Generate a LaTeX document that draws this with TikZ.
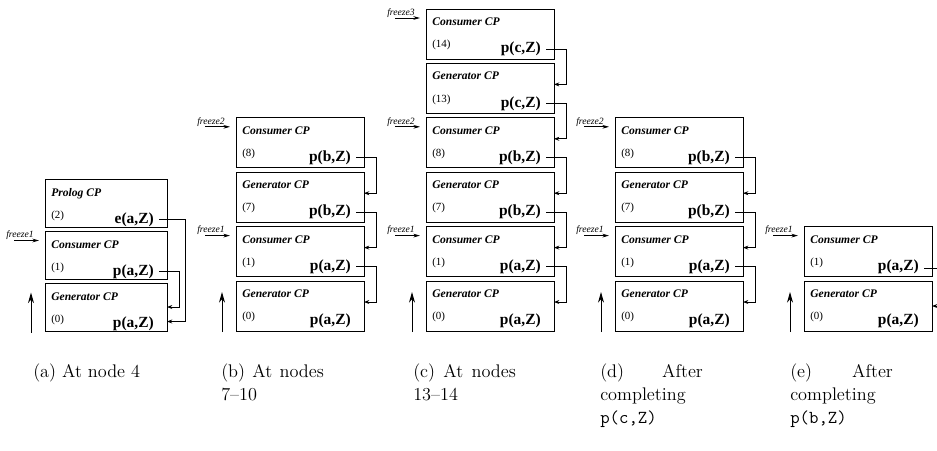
\documentclass[tikz,border=0pt]{standalone}
\usepackage{fontspec}
\newfontfamily\tms{Liberation Serif}
\usetikzlibrary{calc,arrows.meta}
\tikzset{
  cpbox/.style={draw, line width=0.7pt, anchor=north west, inner sep=0pt, outer sep=0pt,
                minimum width=96pt, minimum height=37.5pt},
  abox/.style={cpbox, minimum width=91.5pt, minimum height=36pt},
  ttl/.style={anchor=base west, inner sep=0pt, font=\tms\bfseries\itshape\fontsize{8.7}{10}\selectfont},
  num/.style={anchor=base west, inner sep=0pt, font=\tms\fontsize{8.2}{10}\selectfont},
  goal/.style={anchor=base east, inner sep=0pt, font=\tms\bfseries\fontsize{11.6}{13}\selectfont},
  frz/.style={anchor=base west, inner sep=0pt, font=\tms\itshape\fontsize{7.2}{8}\selectfont},
  link/.style={line width=0.6pt, -{Stealth[length=4pt,width=3pt]}},
  frzarrow/.style={line width=0.6pt, -{Stealth[length=5pt,width=2.8pt]}},
  uparrow/.style={line width=0.7pt, -{Stealth[length=8pt,width=4.5pt]}},
  capt/.style={anchor=north west, inner sep=0pt, font=\fontsize{13.7}{17.25}\selectfont},
  captj/.style={capt, text width=77pt, align=justify,
                execute at begin node={\hyphenpenalty=10000\tolerance=10000\relax}},
}
% style, name, x, ytop, title, number, goal
\newcommand\cpnode[7]{%
  \node[#1] (#2) at (#3,#4) {};
  \node[ttl] (#2t) at ($(#2.north west)+(6,16.5)$) {#5};
  \node[num] (#2n) at ($(#2.north west)+(6,38.6)$) {#6};
  \node[goal] (#2g) at ($(#2.north east)+(-13,43.6)$) {#7};
}
% from box, to box, column offset, arrival height
\newcommand\cplink[4]{%
  \draw[link] ($(#1.north east)+(-8,40)$) -- ($(#1.north east)+(#3,40)$) |- ($(#2.north east)+(0,#4)$);
}
% box, label
\newcommand\cpfreeze[2]{%
  \node[frz] (#1fl) at ($(#1.north west)+(-39,6.3)$) {#2};
  \coordinate (#1fs) at ($(#1.north west)+(-31,9)$);
  \coordinate (#1fe) at ($(#1.north west)+(-6,9)$);
  \draw[frzarrow] (#1fs) -- (#1fe);
}
% bottom box
\newcommand\cpup[1]{%
  \coordinate (#1ub) at ($(#1.south west)+(-14,1)$);
  \coordinate (#1ut) at ($(#1.south west)+(-14,-39)$);
  \draw[uparrow] (#1ub) -- (#1ut);
}
\begin{document}
\begin{tikzpicture}[x=0.75pt,y=-0.75pt]
\useasboundingbox (0,0) rectangle (937,450);

% ---------- (a)
\cpnode{abox}{ap}{45}{179.5}{Prolog CP}{(2)}{e(a,Z)}
\cpnode{abox}{ac1}{45}{231.5}{Consumer CP}{(1)}{p(a,Z)}
\cpnode{abox}{ag0}{45}{283.5}{Generator CP}{(0)}{p(a,Z)}
\cplink{ap}{ag0}{18}{38}
\cplink{ac1}{ag0}{12}{23.5}
\cpfreeze{ac1}{freeze1}
\cpup{ag0}

% ---------- (b)
\cpnode{cpbox}{bc8}{236}{117.8}{Consumer CP}{(8)}{p(b,Z)}
\cpnode{cpbox}{bg7}{236}{172.2}{Generator CP}{(7)}{p(b,Z)}
\cpnode{cpbox}{bc1}{236}{226.6}{Consumer CP}{(1)}{p(a,Z)}
\cpnode{cpbox}{bg0}{236}{281}{Generator CP}{(0)}{p(a,Z)}
\cplink{bc8}{bg7}{12}{21}
\cplink{bg7}{bc1}{12}{21}
\cplink{bc1}{bg0}{12}{21}
\cpfreeze{bc8}{freeze2}
\cpfreeze{bc1}{freeze1}
\cpup{bg0}

% ---------- (c)
\cpnode{cpbox}{cc14}{426}{9}{Consumer CP}{(14)}{p(c,Z)}
\cpnode{cpbox}{cg13}{426}{63.4}{Generator CP}{(13)}{p(c,Z)}
\cpnode{cpbox}{cc8}{426}{117.8}{Consumer CP}{(8)}{p(b,Z)}
\cpnode{cpbox}{cg7}{426}{172.2}{Generator CP}{(7)}{p(b,Z)}
\cpnode{cpbox}{cc1}{426}{226.6}{Consumer CP}{(1)}{p(a,Z)}
\cpnode{cpbox}{cg0}{426}{281}{Generator CP}{(0)}{p(a,Z)}
\cplink{cc14}{cg13}{12}{21}
\cplink{cg13}{cc8}{12}{21}
\cplink{cc8}{cg7}{12}{21}
\cplink{cg7}{cc1}{12}{21}
\cplink{cc1}{cg0}{12}{21}
\cpfreeze{cc14}{freeze3}
\cpfreeze{cc8}{freeze2}
\cpfreeze{cc1}{freeze1}
\cpup{cg0}

% ---------- (d)
\cpnode{cpbox}{dc8}{615}{117.8}{Consumer CP}{(8)}{p(b,Z)}
\cpnode{cpbox}{dg7}{615}{172.2}{Generator CP}{(7)}{p(b,Z)}
\cpnode{cpbox}{dc1}{615}{226.6}{Consumer CP}{(1)}{p(a,Z)}
\cpnode{cpbox}{dg0}{615}{281}{Generator CP}{(0)}{p(a,Z)}
\cplink{dc8}{dg7}{12}{21}
\cplink{dg7}{dc1}{12}{21}
\cplink{dc1}{dg0}{12}{21}
\cpfreeze{dc8}{freeze2}
\cpfreeze{dc1}{freeze1}
\cpup{dg0}

% ---------- (e)
\cpnode{cpbox}{ec1}{804}{226.6}{Consumer CP}{(1)}{p(a,Z)}
\cpnode{cpbox}{eg0}{804}{281}{Generator CP}{(0)}{p(a,Z)}
\begin{scope}
  \clip (0,0) rectangle (937,450);
  \draw[link] ($(ec1.north east)+(-8,42)$) -- ($(ec1.north east)+(12,42)$) |- ($(eg0.north east)+(0,25)$);
\end{scope}
\cpfreeze{ec1}{freeze1}
\cpup{eg0}

% ---------- captions
\node[capt] (capa) at (33,364) {(a) At node 4};
\node[captj] (capb) at (221,364) {(b) At nodes 7--10};
\node[captj] (capc) at (413,364) {(c) At nodes 13--14};
\node[captj] (capd) at (600,364) {(d) After completing \texttt{p(c,Z)}};
\node[captj] (cape) at (790,364) {(e) After completing \texttt{p(b,Z)}};
\end{tikzpicture}
\end{document}
